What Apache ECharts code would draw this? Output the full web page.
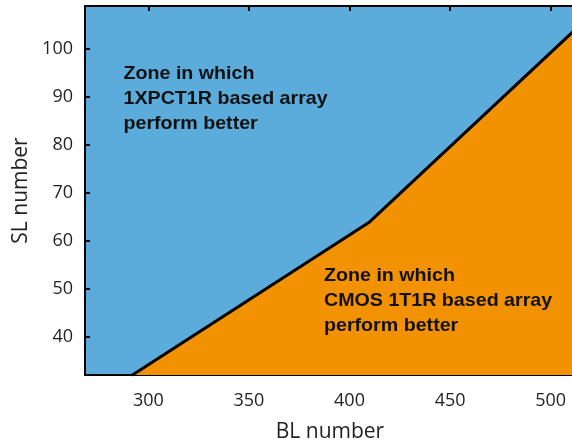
<!DOCTYPE html>
<html>
<head>
<meta charset="utf-8">
<script src="https://cdn.jsdelivr.net/npm/echarts@6/dist/echarts.min.js"></script>
<style>html,body{margin:0;padding:0;background:#fff;}#c{width:572px;height:445px;}</style>
</head>
<body>
<div id="c"></div>
<script>
// Boundary line (BL number, SL number)
const boundaryBL = [291.7, 410, 512];
const boundarySL = [32, 64, 104];
const xRange = [268.5, 512.1];
const yRange = [32.1, 109];
const xName = 'BL number';
const yName = 'SL number';
const zoneUpper = 'Zone in which\n1XPCT1R based array\nperform better';
const zoneLower = 'Zone in which\nCMOS 1T1R based array\nperform better';

const pts = boundaryBL.map((x, i) => [x, boundarySL[i]]);
const blue = '#5BACDA';
const orange = '#F39200';
const axisFont = '"Open Sans", sans-serif';
const chart = echarts.init(document.getElementById('c'), null, {renderer: 'canvas'});
const lblFmt = v => (Math.abs(v % 10) < 1e-6 ? String(v) : '');
const lblFmtX = v => (Math.abs(v % 50) < 1e-6 ? String(v) : '');
const zoneStyle = {fontFamily: 'Liberation Sans', fontWeight: 'bold', fontSize: 18.2, fill: '#111', lineHeight: 25};
chart.setOption({
  animation: false,
  grid: {left: 85, top: 6, width: 490, height: 369, show: true, backgroundColor: blue, borderWidth: 0, outerBoundsMode: 'none', containLabel: false},
  xAxis: [{
    type: 'value', min: xRange[0], max: xRange[1], splitNumber: 5, position: 'bottom',
    name: xName, nameLocation: 'middle', nameGap: 47,
    nameTextStyle: {fontFamily: axisFont, fontSize: 21, color: '#231f20'},
    axisLine: {show: true, onZero: false, lineStyle: {color: '#000', width: 2}},
    axisTick: {show: true, inside: true, length: 5, lineStyle: {color: '#000', width: 2}},
    axisLabel: {fontFamily: axisFont, fontSize: 18, color: '#231f20', margin: 17, formatter: lblFmtX},
    splitLine: {show: false}
  }, {
    type: 'value', min: xRange[0], max: xRange[1], splitNumber: 5, position: 'top',
    axisLine: {show: true, onZero: false, lineStyle: {color: '#000', width: 2}},
    axisTick: {show: true, inside: true, length: 5, lineStyle: {color: '#000', width: 2}},
    axisLabel: {show: false}, splitLine: {show: false}
  }],
  yAxis: [{
    type: 'value', min: yRange[0], max: yRange[1], splitNumber: 8, position: 'left',
    name: yName, nameLocation: 'middle', nameGap: 53, nameRotate: 90,
    nameTextStyle: {fontFamily: axisFont, fontSize: 21, color: '#231f20'},
    axisLine: {show: true, onZero: false, lineStyle: {color: '#000', width: 2}},
    axisTick: {show: true, inside: true, length: 5, lineStyle: {color: '#000', width: 2}},
    axisLabel: {fontFamily: axisFont, fontSize: 18, color: '#231f20', margin: 12, formatter: lblFmt},
    splitLine: {show: false}
  }, {
    type: 'value', min: yRange[0], max: yRange[1], splitNumber: 8, position: 'right',
    axisLine: {show: true, onZero: false, lineStyle: {color: '#000', width: 2}},
    axisTick: {show: true, inside: true, length: 5, lineStyle: {color: '#000', width: 2}},
    axisLabel: {show: false}, splitLine: {show: false}
  }],
  series: [{
    type: 'line', data: pts, xAxisIndex: 0, yAxisIndex: 0, symbol: 'none', clip: true,
    lineStyle: {color: '#000', width: 3},
    areaStyle: {color: orange, opacity: 1, origin: 'start'},
    z: 1
  }],
  graphic: [
    {type: 'text', x: 123.5, y: 61, scaleX: 1.08, z: 10, style: Object.assign({text: zoneUpper}, zoneStyle)},
    {type: 'text', x: 324, y: 263, scaleX: 1.08, z: 10, style: Object.assign({text: zoneLower}, zoneStyle)}
  ]
});
</script>
</body>
</html>
